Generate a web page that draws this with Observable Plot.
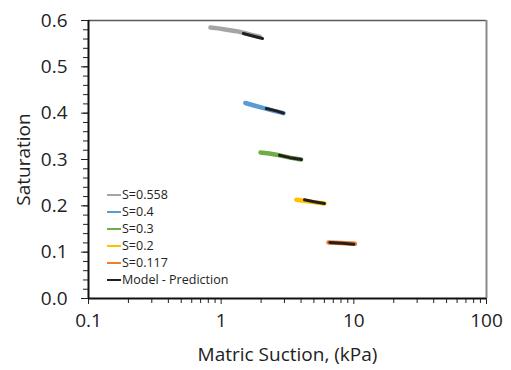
<!DOCTYPE html>
<html>
<head>
<meta charset="utf-8">
<script src="https://cdn.jsdelivr.net/npm/d3@7"></script>
<script src="https://cdn.jsdelivr.net/npm/@observablehq/plot@0.6"></script>
<style>
  body { margin: 0; background: #fff; }
  #wrap { position: relative; width: 511px; height: 370px; font-family: "Open Sans", sans-serif; }
  #legend { position: absolute; left: 107px; top: 186px; font-size: 12.5px; color: #222; }
  .row { display: flex; align-items: center; height: 17px; line-height: 17px; white-space: nowrap; }
  .sw { width: 14px; height: 0; border-top: 2px solid; margin-right: 1px; }
</style>
</head>
<body>
<div id="wrap"><div id="chart"></div><div id="legend"></div></div>
<script>
// Measured series (matric suction kPa, saturation)
const seriesNames = ["S=0.558", "S=0.4", "S=0.3", "S=0.2", "S=0.117"];
const seriesColors = ["#A5A5A5", "#5B9BD5", "#70AD47", "#FFC000", "#ED7D31"];

const suction558 = [0.83, 0.95, 1.1, 1.3, 1.5, 1.7, 1.95];
const sat558     = [0.585, 0.583, 0.580, 0.577, 0.573, 0.569, 0.565];
const suction04  = [1.52, 1.8, 2.1, 2.5, 2.95];
const sat04      = [0.422, 0.416, 0.411, 0.405, 0.400];
const suction03  = [1.98, 2.3, 2.75, 3.3, 4.0];
const sat03      = [0.315, 0.313, 0.309, 0.304, 0.300];
const suction02  = [3.69, 4.2, 5.0, 6.0];
const sat02      = [0.213, 0.211, 0.208, 0.205];
const suction0117 = [6.44, 8.0, 10.2];
const sat0117     = [0.121, 0.120, 0.118];

// Model predictions
const modelSuction558 = [1.47, 1.7, 2.05];
const modelSat558     = [0.572, 0.567, 0.561];
const modelSuction04  = [2.19, 2.6, 2.95];
const modelSat04      = [0.410, 0.405, 0.400];
const modelSuction03  = [2.75, 3.3, 4.03];
const modelSat03      = [0.309, 0.304, 0.300];
const modelSuction02  = [4.25, 5.0, 6.0];
const modelSat02      = [0.213, 0.209, 0.205];
const modelSuction0117 = [6.6, 8.2, 10.0];
const modelSat0117     = [0.121, 0.119, 0.117];

const xTicks = [0.1, 1, 10, 100];
const yTicks = [0, 0.1, 0.2, 0.3, 0.4, 0.5, 0.6];

const measured = [
  [suction558, sat558], [suction04, sat04], [suction03, sat03], [suction02, sat02], [suction0117, sat0117]
].flatMap(([xs, ys], i) => xs.map((x, j) => ({x, y: ys[j], s: seriesNames[i]})));
const model = [
  [modelSuction558, modelSat558], [modelSuction04, modelSat04], [modelSuction03, modelSat03],
  [modelSuction02, modelSat02], [modelSuction0117, modelSat0117]
].flatMap(([xs, ys], i) => xs.map((x, j) => ({x, y: ys[j], s: seriesNames[i]})));

const xMinor = [];
for (const d of [0.1, 1, 10]) for (let k = 2; k <= 9; k++) xMinor.push(+(d * k).toPrecision(3));
const yMinor = d3.range(0, 0.6001, 0.02).map(v => +v.toFixed(2));

const chart = Plot.plot({
  width: 511, height: 370,
  marginLeft: 88, marginRight: 25, marginTop: 20, marginBottom: 72,
  style: {fontFamily: "Open Sans, sans-serif", color: "#222", background: "white"},
  x: {type: "log", domain: [0.1, 100]},
  y: {domain: [0, 0.6]},
  color: {domain: seriesNames, range: seriesColors},
  marks: [
    Plot.ruleY([0.6], {stroke: "#595959", strokeWidth: 1.3}),
    Plot.ruleX([100], {stroke: "#8a8a8a", strokeWidth: 2}),
    Plot.axisX(xMinor, {tickSize: 5, tickFormat: () => "", stroke: "#222", label: null}),
    Plot.axisX(xTicks, {tickSize: 6, tickPadding: 9, tickFormat: d => String(d), fontSize: 19, label: "Matric Suction, (kPa)", labelAnchor: "center", labelArrow: "none", labelOffset: 62, stroke: "#222"}),
    Plot.axisY(yMinor, {tickSize: 5, tickFormat: () => "", stroke: "#222", label: null}),
    Plot.axisY(yTicks, {tickSize: 7, tickPadding: 14, tickFormat: d => d.toFixed(1), fontSize: 19, label: "Saturation", labelAnchor: "center", labelArrow: "none", labelOffset: 72, stroke: "#222"}),
    Plot.line(measured, {x: "x", y: "y", z: "s", stroke: "s", strokeWidth: 4.5, strokeLinecap: "round"}),
    Plot.line(model, {x: "x", y: "y", z: "s", stroke: "#231F20", strokeWidth: 3}),
    Plot.ruleX([0.1], {stroke: "#111", strokeWidth: 2}),
    Plot.ruleY([0], {stroke: "#111", strokeWidth: 2})
  ]
});
chart.querySelectorAll("g[aria-label='x-axis label'] text, g[aria-label='y-axis label'] text").forEach(t => t.setAttribute("font-size", 19));
document.getElementById("chart").appendChild(chart);

const legendItems = seriesNames.map((n, i) => ({name: n, color: seriesColors[i]}))
  .concat([{name: "Model - Prediction", color: "#231F20"}]);
const lg = document.getElementById("legend");
for (const it of legendItems) {
  const r = document.createElement("div"); r.className = "row";
  const s = document.createElement("span"); s.className = "sw"; s.style.borderColor = it.color;
  const t = document.createElement("span"); t.textContent = it.name;
  r.appendChild(s); r.appendChild(t); lg.appendChild(r);
}
</script>
</body>
</html>
